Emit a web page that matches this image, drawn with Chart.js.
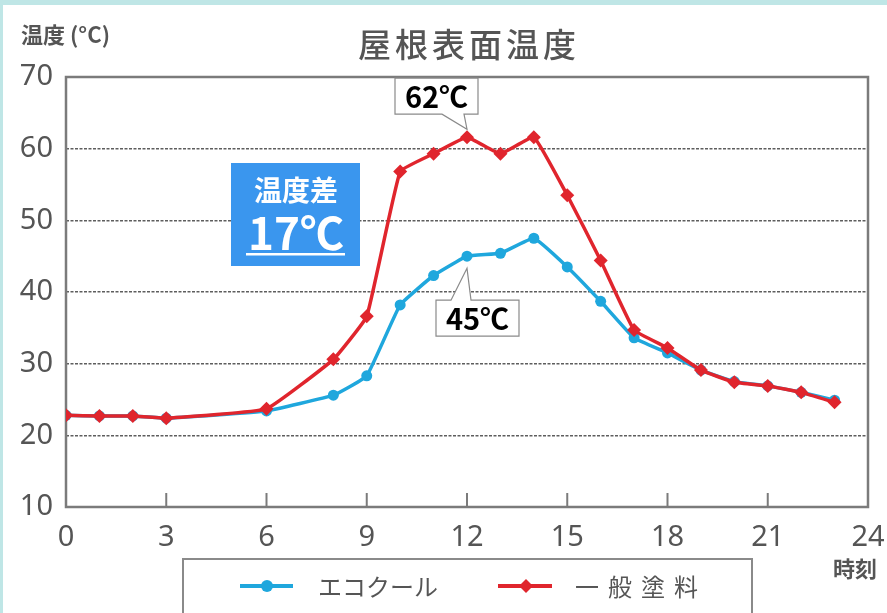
<!DOCTYPE html>
<html lang="ja">
<head>
	<meta charset="UTF-8">
	<title>屋根表面温度</title>
	<script src="https://cdn.jsdelivr.net/npm/chart.js"></script>
	<style>
		body { margin: 0; background: #bfe6e6; }
		#paper { position: absolute; left: 3px; top: 5px; width: 884px; height: 608px; background: #fff; }
		#chart { position: absolute; left: 0; top: 0; }
	</style>
</head>
<body>
	<div id="paper"></div>
	<canvas id="chart" width="887" height="613"></canvas>
	<script>
	// hour of day
	const hours = [0, 1, 2, 3, 6, 8, 9, 10, 11, 12, 13, 14, 15, 16, 17, 18, 19, 20, 21, 22, 23];
	// エコクール (blue)
	const ecoCool = [22.8, 22.7, 22.7, 22.4, 23.4, 25.6, 28.3, 38.2, 42.3, 45.0, 45.4, 47.5, 43.5, 38.7, 33.6, 31.5, 29.1, 27.5, 26.9, 26.0, 24.9];
	// 一般塗料 (red)
	const normalPaint = [22.8, 22.7, 22.7, 22.4, 23.7, 30.6, 36.6, 56.8, 59.3, 61.6, 59.3, 61.6, 53.5, 44.4, 34.7, 32.2, 29.1, 27.4, 26.9, 26.0, 24.6];
	const seriesNames = ['エコクール', '一般塗料'];
	const xTicks = [0, 3, 6, 9, 12, 15, 18, 21, 24];
	const yTicks = [10, 20, 30, 40, 50, 60, 70];
	const peakLabels = ['62℃', '45℃'];
	const diffLabels = ['温度差', '17℃'];

	const BLUE = '#1fa7dd';
	const RED = '#e0252d';
	const GREY = '#555';
	const FRAME = '#7b7b7b';
	const CJK = '"Noto Sans CJK JP", "Noto Sans", sans-serif';

	function toPoints(ys) {
		return hours.map((h, i) => ({ x: h, y: ys[i] }));
	}

	// white box with a pointer tail; tail on 'top' or 'bottom' side
	function callout(ctx, l, t, w, h, side, b1, b2, tipX, tipY, text) {
		const r = l + w, btm = t + h;
		ctx.beginPath();
		if(side === 'bottom') {
			ctx.moveTo(l, t); ctx.lineTo(r, t); ctx.lineTo(r, btm);
			ctx.lineTo(b2, btm); ctx.lineTo(tipX, tipY); ctx.lineTo(b1, btm);
			ctx.lineTo(l, btm);
		} else {
			ctx.moveTo(l, t); ctx.lineTo(b1, t); ctx.lineTo(tipX, tipY);
			ctx.lineTo(b2, t); ctx.lineTo(r, t); ctx.lineTo(r, btm); ctx.lineTo(l, btm);
		}
		ctx.closePath();
		ctx.fillStyle = '#fff';
		ctx.fill();
		ctx.strokeStyle = '#8a8a8a';
		ctx.lineWidth = 1.2;
		ctx.stroke();
		ctx.fillStyle = '#000';
		ctx.font = 'bold 29px ' + CJK;
		ctx.textAlign = 'center';
		ctx.textBaseline = 'middle';
		ctx.fillText(text, l + w / 2, t + h / 2 + 1);
	}

	const decor = {
		id: 'decor',
		beforeDatasetsDraw(chart) {
			const { ctx, chartArea: a, scales: { x } } = chart;
			ctx.save();
			ctx.strokeStyle = FRAME;
			ctx.lineWidth = 2.5;
			ctx.strokeRect(a.left, a.top, a.right - a.left, a.bottom - a.top);
			ctx.lineWidth = 2;
			xTicks.slice(1, -1).forEach(v => {
				const px = x.getPixelForValue(v);
				ctx.beginPath();
				ctx.moveTo(px, a.bottom);
				ctx.lineTo(px, a.bottom - 14);
				ctx.stroke();
			});
			ctx.restore();
		},
		afterDraw(chart) {
			const { ctx, chartArea: a, scales: { x, y } } = chart;
			ctx.save();
			// title and axis names
			ctx.fillStyle = GREY;
			ctx.textBaseline = 'middle';
			ctx.textAlign = 'center';
			ctx.font = '500 33px ' + CJK;
			ctx.letterSpacing = '4px';
			ctx.fillText('屋根表面温度', (a.left + a.right) / 2 + 2, 44);
			ctx.letterSpacing = '0px';
			ctx.textAlign = 'left';
			ctx.font = 'bold 22px ' + CJK;
			ctx.fillText('温度 (°C)', 21, 35);
			ctx.fillText('時刻', 833, 569);

			// peak callouts
			const i12 = hours.indexOf(12);
			const rx = x.getPixelForValue(12), ry = y.getPixelForValue(normalPaint[i12]);
			callout(ctx, rx - 72, ry - 59, 83, 36, 'bottom', rx - 25, rx - 3, rx, ry - 8, peakLabels[0]);
			const by = y.getPixelForValue(ecoCool[i12]);
			callout(ctx, rx - 31, by + 44, 83, 36, 'top', rx - 16, rx + 4, rx, by + 12, peakLabels[1]);

			// difference box
			ctx.fillStyle = '#3a96ee';
			ctx.fillRect(231, 163, 129, 103);
			ctx.fillStyle = '#fff';
			ctx.textAlign = 'center';
			ctx.font = 'bold 28px ' + CJK;
			ctx.fillText(diffLabels[0], 296, 190);
			ctx.font = 'bold 44px ' + CJK;
			ctx.fillText(diffLabels[1], 296, 233);
			ctx.fillRect(246, 253, 99, 2.5);

			// legend
			ctx.strokeStyle = '#8a8a8a';
			ctx.lineWidth = 2;
			ctx.strokeRect(183, 559, 569, 80);
			const items = [
				{ x1: 240, x2: 293, m: 267, color: BLUE, tx: 318, sp: '0px', style: 'circle' },
				{ x1: 498, x2: 552, m: 526, color: RED, tx: 575, sp: '9px', style: 'diamond' }
			];
			items.forEach((it, k) => {
				ctx.strokeStyle = it.color;
				ctx.fillStyle = it.color;
				ctx.lineWidth = 4;
				ctx.beginPath();
				ctx.moveTo(it.x1, 586);
				ctx.lineTo(it.x2, 586);
				ctx.stroke();
				ctx.beginPath();
				if(it.style === 'circle') {
					ctx.arc(it.m, 586, 6, 0, Math.PI * 2);
				} else {
					ctx.moveTo(it.m, 579); ctx.lineTo(it.m + 7, 586); ctx.lineTo(it.m, 593); ctx.lineTo(it.m - 7, 586);
				}
				ctx.fill();
				ctx.fillStyle = GREY;
				ctx.textAlign = 'left';
				ctx.font = '24px ' + CJK;
				ctx.letterSpacing = it.sp;
				ctx.fillText(seriesNames[k], it.tx, 587);
			});
			ctx.restore();
		}
	};

	new Chart(document.getElementById('chart'), {
		type: 'line',
		data: {
			datasets: [{
				label: seriesNames[0],
				data: toPoints(ecoCool),
				borderColor: BLUE,
				backgroundColor: BLUE,
				borderWidth: 3.5,
				pointStyle: 'circle',
				pointRadius: 5.5,
				pointBorderWidth: 0,
				tension: 0.1,
				order: 2
			}, {
				label: seriesNames[1],
				data: toPoints(normalPaint),
				borderColor: RED,
				backgroundColor: RED,
				borderWidth: 3.5,
				pointStyle: 'rectRot',
				pointRadius: 7,
				pointBorderWidth: 0,
				tension: 0.1,
				order: 1
			}]
		},
		options: {
			responsive: false,
			animation: false,
			layout: { padding: { top: 77, right: 19, bottom: 66, left: 0 } },
			plugins: {
				legend: { display: false },
				title: { display: false },
				tooltip: { enabled: false }
			},
			scales: {
				x: {
					type: 'linear',
					min: 0,
					max: 24,
					afterBuildTicks: s => { s.ticks = xTicks.map(v => ({ value: v })); },
					afterFit: s => { s.height = 40; s.paddingLeft = 0; s.paddingRight = 0; },
					grid: { display: false, drawTicks: false },
					border: { display: false },
					ticks: { color: GREY, padding: 13, maxRotation: 0, autoSkip: false, font: { family: '"Noto Sans", sans-serif', size: 29 } }
				},
				y: {
					min: 10,
					max: 70,
					afterBuildTicks: s => { s.ticks = yTicks.map(v => ({ value: v })); },
					afterFit: s => { s.width = 66; s.paddingTop = 0; s.paddingBottom = 0; },
					grid: {
						drawTicks: false,
						lineWidth: 1.6,
						color: c => (c.tick && (c.tick.value === 10 || c.tick.value === 70)) ? 'rgba(0,0,0,0)' : '#5e5e5e'
					},
					border: { display: false, dash: [3, 1.5] },
					ticks: { color: GREY, padding: 13, font: { family: '"Noto Sans", sans-serif', size: 29 } }
				}
			}
		},
		plugins: [decor]
	});
	</script>
</body>
</html>
